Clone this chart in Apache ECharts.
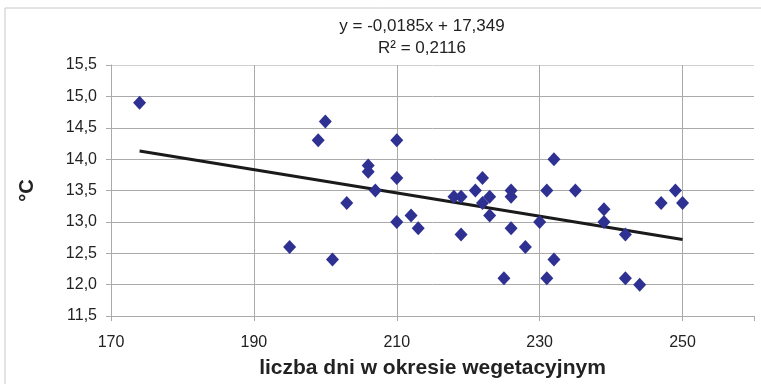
<!DOCTYPE html>
<html>
<head>
<meta charset="utf-8">
<script src="https://cdn.jsdelivr.net/npm/echarts@6/dist/echarts.min.js"></script>
<style>
  html, body { margin: 0; padding: 0; background: #fff; }
  #chart { width: 761px; height: 384px; }
</style>
</head>
<body>
<div id="chart"></div>
<script>
// liczba dni w okresie wegetacyjnym (x) i temperatura °C (y)
const days = [174, 200, 199, 195, 201, 210, 206, 206, 210, 207, 203, 212, 210, 213,
  218, 219, 221, 222, 223, 222, 223, 219, 226, 226, 226, 228, 225, 230, 231, 232,
  232, 231, 235, 239, 239, 242, 242, 244, 247, 249, 250];
const temps = [14.9, 14.6, 14.3, 12.6, 12.4, 14.3, 13.9, 13.8, 13.7, 13.5, 13.3, 13.1, 13.0, 12.9,
  13.4, 13.4, 13.5, 13.7, 13.4, 13.3, 13.1, 12.8, 13.5, 13.4, 12.9, 12.6, 12.1, 13.0, 13.5, 14.0,
  12.4, 12.1, 13.5, 13.2, 13.0, 12.8, 12.1, 12.0, 13.3, 13.5, 13.3];

// linia trendu (końce)
const trendX = [174, 250];
const trendY = [14.13, 12.72];

const eqLines = ['y = -0,0185x + 17,349', 'R² = 0,2116'];

const FONT = 'Liberation Sans, Arial, sans-serif';
const chart = echarts.init(document.getElementById('chart'));

const fmt = v => v.toFixed(1).replace('.', ',');

chart.setOption({
  animation: false,
  textStyle: { fontFamily: FONT },
  grid: { left: 111, right: 7, top: 65, bottom: 68 },
  graphic: [
    {
      type: 'rect',
      shape: { x: 5, y: 8, width: 800, height: 420 },
      style: { fill: 'none', stroke: '#c8c8c8', lineWidth: 1 },
      silent: true
    },
    {
      type: 'text',
      x: 422, y: 26,
      style: { text: eqLines[0], fontSize: 17, fill: '#222', fontFamily: FONT, align: 'center', verticalAlign: 'middle' }
    },
    {
      type: 'text',
      x: 422, y: 48,
      style: { text: eqLines[1], fontSize: 17, fill: '#222', fontFamily: FONT, align: 'center', verticalAlign: 'middle' }
    }
  ],
  xAxis: {
    type: 'value',
    min: 170,
    max: 260,
    interval: 20,
    name: 'liczba dni w okresie wegetacyjnym',
    nameLocation: 'middle',
    nameGap: 42,
    nameTextStyle: { fontSize: 21, fontWeight: 'bold', color: '#222' },
    axisLine: { show: true, lineStyle: { color: '#aaa' } },
    axisTick: { show: true, length: 5, lineStyle: { color: '#aaa' } },
    axisLabel: {
      fontSize: 16, color: '#222', margin: 19,
      formatter: v => (v === 260 ? '' : String(v))
    },
    splitLine: {
      show: true,
      lineStyle: { color: ['#aaa', '#aaa', '#aaa', '#aaa', '#aaa', 'rgba(0,0,0,0)'], width: 1 }
    }
  },
  yAxis: {
    type: 'value',
    min: 11.5,
    max: 15.5,
    interval: 0.5,
    name: '°C',
    nameLocation: 'middle',
    nameGap: 74,
    nameRotate: 90,
    nameTextStyle: { fontSize: 20, fontWeight: 'bold', color: '#222' },
    axisLine: { show: true, lineStyle: { color: '#aaa' } },
    axisTick: { show: true, length: 5, lineStyle: { color: '#aaa' } },
    axisLabel: { fontSize: 16, color: '#222', margin: 14, formatter: fmt },
    splitLine: {
      show: true,
      lineStyle: { color: ['#aaa', '#aaa', '#aaa', '#aaa', '#aaa', '#aaa', '#aaa', '#aaa', '#d0d0d0'], width: 1 }
    }
  },
  series: [
    {
      type: 'line',
      data: trendX.map((x, i) => [x, trendY[i]]),
      showSymbol: false,
      lineStyle: { color: '#1a1a1a', width: 3 },
      z: 2
    },
    {
      type: 'scatter',
      data: days.map((d, i) => [d, temps[i]]),
      symbol: 'diamond',
      symbolSize: [13, 14],
      itemStyle: { color: '#2e3192', opacity: 1 },
      z: 3
    }
  ]
});
</script>
</body>
</html>
